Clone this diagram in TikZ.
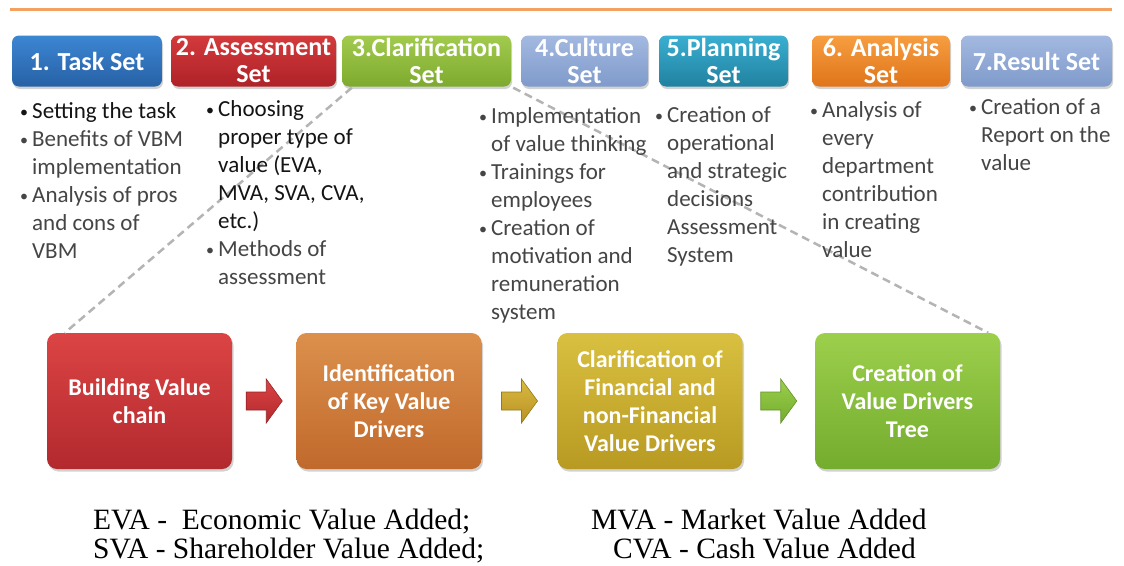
\documentclass[tikz,border=0pt]{standalone}
\usepackage{fontspec}
\setmainfont{Carlito}
\newfontfamily\legendfont{Liberation Serif}
\usetikzlibrary{shadows,calc}

\definecolor{topline}{HTML}{F2A160}
\definecolor{dashcol}{HTML}{B4B4B4}
\definecolor{bk}{HTML}{141414}
\definecolor{gr}{HTML}{454545}
% header colours
\definecolor{h1t}{HTML}{3C86D2}\definecolor{h1b}{HTML}{2761A6}
\definecolor{h2t}{HTML}{D33A3C}\definecolor{h2b}{HTML}{AE2228}
\definecolor{h3t}{HTML}{A2CB4E}\definecolor{h3b}{HTML}{7DAA2E}
\definecolor{h4t}{HTML}{A3B9E0}\definecolor{h4b}{HTML}{7F9ACB}
\definecolor{h5t}{HTML}{3AAFD2}\definecolor{h5b}{HTML}{21819F}
\definecolor{h6t}{HTML}{F69E40}\definecolor{h6b}{HTML}{E0741A}
% bottom box colours
\definecolor{b1t}{HTML}{DC4444}\definecolor{b1b}{HTML}{B2292E}
\definecolor{b2t}{HTML}{DC904C}\definecolor{b2b}{HTML}{C0692C}
\definecolor{b3t}{HTML}{D9C040}\definecolor{b3b}{HTML}{B89A22}
\definecolor{b4t}{HTML}{9CCF4C}\definecolor{b4b}{HTML}{74AC2E}

\newcommand\bl{\makebox[12pt][l]{\raisebox{1.5pt}{\fontsize{16}{16}\selectfont •}}}
\newcommand\ind{\hspace*{12pt}}

\tikzset{
  hdr/.style={rounded corners=7pt, text=white, align=center, inner sep=0pt,
    font=\bfseries\fontsize{26}{27}\selectfont, minimum height=51pt,
    drop shadow={shadow xshift=1pt, shadow yshift=-2.5pt, opacity=.35}},
  col/.style={anchor=north west, inner sep=0pt, align=left, text=gr,
    font=\fontsize{23}{28}\selectfont},
  bb/.style={rounded corners=10pt, text=white, align=center, inner sep=0pt,
    font=\bfseries\fontsize{24}{28}\selectfont, minimum width=185pt, minimum height=136pt,
    drop shadow={shadow xshift=1.5pt, shadow yshift=-2.5pt, opacity=.35}},
  callout/.style={draw=dashcol, line width=2.5pt, dash pattern=on 8pt off 5pt},
  legend/.style={anchor=base west, inner sep=0pt, font=\legendfont\fontsize{29.5}{29}\selectfont},
  barrow/.pic={\path[pic actions] (-18,-9) -- (2,-9) -- (2,-22) -- (18,0) -- (2,22) -- (2,9) -- (-18,9) -- cycle;}
}

\begin{document}
\begin{tikzpicture}[x=1pt,y=-1pt]
\useasboundingbox (0,0) rectangle (1124,565);
\fill[white] (0,0) rectangle (1124,565);

% top rule
\coordinate (tl) at (10,9);
\coordinate (tr) at (1112,9);
\draw[topline, line width=3pt] (tl) -- (tr);

% header boxes
\node[hdr, minimum width=150pt, top color=h1t, bottom color=h1b] (h1) at (87,61) {1. Task Set};
\node[hdr, minimum width=165pt, top color=h2t, bottom color=h2b] (h2) at (253.5,61) {2. Assessment\\Set};
\node[hdr, minimum width=169pt, top color=h3t, bottom color=h3b] (h3) at (426.5,61) {3.Clarification\\Set};
\node[hdr, minimum width=127pt, top color=h4t, bottom color=h4b] (h4) at (584.5,61) {4.Culture\\Set};
\node[hdr, minimum width=129pt, top color=h5t, bottom color=h5b] (h5) at (723.5,61) {5.Planning\\Set};
\node[hdr, minimum width=138pt, top color=h6t, bottom color=h6b] (h6) at (881,61) {6. Analysis\\Set};
\node[hdr, minimum width=151pt, top color=h4t, bottom color=h4b] (h7) at (1036.5,61) {7.Result Set};

% bottom boxes
\node[bb, top color=b1t, bottom color=b1b] (b1) at (139.5,401) {Building Value\\chain};
\node[bb, top color=b2t, bottom color=b2b] (b2) at (389,401) {Identification\\of Key Value\\Drivers};
\node[bb, top color=b3t, bottom color=b3b] (b3) at (650,401) {Clarification of\\Financial and\\non-Financial\\Value Drivers};
\node[bb, top color=b4t, bottom color=b4b] (b4) at (907.5,401) {Creation of\\Value Drivers\\Tree};

% callout dashed lines
\draw[callout] ($(h3.south west)+(10,1)$) -- ($(b1.north west)+(18,0)$);
\draw[callout] ($(h3.south east)+(2,1)$) -- ($(b4.north east)+(-12,0)$);

% bullet columns
\node[col] (c1) at (20,99) {\strut{\color{bk}\bl Setting the task}\\
  \bl Benefits of VBM\\ \ind implementation\\ \bl Analysis of pros\\ \ind and cons of\\ \ind VBM};
\node[col] (c2) at (206,97) {\strut{\color{bk}\bl Choosing}\\ {\color{bk}\ind proper type of}\\
  {\color{bk}\ind value (EVA,}\\ {\color{bk}\ind MVA, SVA, CVA,}\\ {\color{bk}\ind etc.)}\\
  \bl Methods of\\ \ind assessment};
\node[col] (c4) at (479,104) {\strut\bl Implementation\\ \ind of value thinking\\ \bl Trainings for\\
  \ind employees\\ \bl Creation of\\ \ind motivation and\\ \ind remuneration\\ \ind system};
\node[col] (c5) at (655,103) {\strut\bl Creation of\\ \ind operational\\ \ind and strategic\\
  \ind decisions\\ \ind Assessment\\ \ind System};
\node[col] (c6) at (810,98) {\strut\bl Analysis of\\ \ind every\\ \ind department\\
  \ind contribution\\ \ind in creating\\ \ind value};
\node[col] (c7) at (969,95) {\strut\bl Creation of a\\ \ind Report on the\\ \ind value};

% block arrows
\path ($(b1.east)!.5!(b2.west)$) pic[top color=b1t, bottom color=b1b, draw=b1b!85!black, line width=.6pt] {barrow};
\path ($(b2.east)!.5!(b3.west)$) pic[top color=b3t!90!b2t, bottom color=b3b!80!b2b, draw=b3b!80!black, line width=.6pt] {barrow};
\path ($(b3.east)!.5!(b4.west)$) pic[top color=b4t, bottom color=b4b, draw=b4b!85!black, line width=.6pt] {barrow};

% legend
\node[legend] (l1) at (93,529) {EVA -\ \ Economic Value Added;};
\node[legend] (l2) at (591,529) {MVA - Market Value Added};
\node[legend] (l3) at (93,558) {SVA - Shareholder Value Added;};
\node[legend] (l4) at (613,558) {CVA - Cash Value Added};
\end{tikzpicture}
\end{document}
